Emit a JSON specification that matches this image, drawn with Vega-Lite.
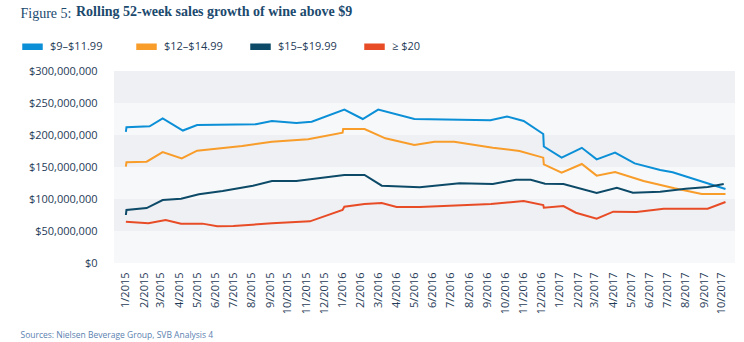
{
  "$schema": "https://vega.github.io/schema/vega-lite/v6.json",
  "width": 621,
  "height": 192,
  "autosize": "none",
  "padding": {"left": 114, "top": 71, "right": 9, "bottom": 79},
  "background": "white",
  "config": {
    "view": {"stroke": null, "fill": "#f7f8fa"},
    "font": "Open Sans"
  },
  "title": {
    "text": "Rolling 52-week sales growth of wine above $9",
    "anchor": "start",
    "frame": "group",
    "dx": -38,
    "offset": -13,
    "font": "Liberation Serif",
    "fontSize": 14,
    "fontWeight": "bold",
    "color": "#1b4a6e"
  },
  "datasets": {
    "bands": [
      {"lo": 250000000, "hi": 300000000},
      {"lo": 150000000, "hi": 200000000},
      {"lo": 50000000, "hi": 100000000}
    ],
    "series": [
      {"d": "2015-01-01", "s": "$9–$11.99", "v": 205000000},
      {"d": "2015-01-02", "s": "$9–$11.99", "v": 212000000},
      {"d": "2015-02-10", "s": "$9–$11.99", "v": 213500000},
      {"d": "2015-03-04", "s": "$9–$11.99", "v": 226000000},
      {"d": "2015-04-07", "s": "$9–$11.99", "v": 207000000},
      {"d": "2015-05-01", "s": "$9–$11.99", "v": 215600000},
      {"d": "2015-08-08", "s": "$9–$11.99", "v": 216700000},
      {"d": "2015-09-04", "s": "$9–$11.99", "v": 222000000},
      {"d": "2015-10-15", "s": "$9–$11.99", "v": 218800000},
      {"d": "2015-11-10", "s": "$9–$11.99", "v": 220800000},
      {"d": "2016-01-04", "s": "$9–$11.99", "v": 239600000},
      {"d": "2016-02-04", "s": "$9–$11.99", "v": 225000000},
      {"d": "2016-03-01", "s": "$9–$11.99", "v": 239600000},
      {"d": "2016-05-01", "s": "$9–$11.99", "v": 225000000},
      {"d": "2016-09-06", "s": "$9–$11.99", "v": 223000000},
      {"d": "2016-10-04", "s": "$9–$11.99", "v": 229000000},
      {"d": "2016-11-01", "s": "$9–$11.99", "v": 222000000},
      {"d": "2016-12-04", "s": "$9–$11.99", "v": 201600000},
      {"d": "2016-12-05", "s": "$9–$11.99", "v": 182000000},
      {"d": "2017-01-04", "s": "$9–$11.99", "v": 164600000},
      {"d": "2017-02-07", "s": "$9–$11.99", "v": 180000000},
      {"d": "2017-03-04", "s": "$9–$11.99", "v": 162000000},
      {"d": "2017-04-04", "s": "$9–$11.99", "v": 172400000},
      {"d": "2017-05-07", "s": "$9–$11.99", "v": 155700000},
      {"d": "2017-06-19", "s": "$9–$11.99", "v": 145300000},
      {"d": "2017-07-10", "s": "$9–$11.99", "v": 141700000},
      {"d": "2017-10-07", "s": "$9–$11.99", "v": 115600000},

      {"d": "2015-01-01", "s": "$12–$14.99", "v": 150500000},
      {"d": "2015-01-02", "s": "$12–$14.99", "v": 157300000},
      {"d": "2015-02-05", "s": "$12–$14.99", "v": 158300000},
      {"d": "2015-03-04", "s": "$12–$14.99", "v": 173400000},
      {"d": "2015-04-05", "s": "$12–$14.99", "v": 163500000},
      {"d": "2015-05-01", "s": "$12–$14.99", "v": 175500000},
      {"d": "2015-07-16", "s": "$12–$14.99", "v": 182800000},
      {"d": "2015-09-04", "s": "$12–$14.99", "v": 189600000},
      {"d": "2015-11-04", "s": "$12–$14.99", "v": 193200000},
      {"d": "2016-01-01", "s": "$12–$14.99", "v": 203600000},
      {"d": "2016-01-02", "s": "$12–$14.99", "v": 209400000},
      {"d": "2016-02-07", "s": "$12–$14.99", "v": 209400000},
      {"d": "2016-03-13", "s": "$12–$14.99", "v": 194800000},
      {"d": "2016-05-01", "s": "$12–$14.99", "v": 184400000},
      {"d": "2016-06-04", "s": "$12–$14.99", "v": 189600000},
      {"d": "2016-07-07", "s": "$12–$14.99", "v": 189600000},
      {"d": "2016-09-10", "s": "$12–$14.99", "v": 180200000},
      {"d": "2016-10-25", "s": "$12–$14.99", "v": 175000000},
      {"d": "2016-12-04", "s": "$12–$14.99", "v": 164600000},
      {"d": "2016-12-05", "s": "$12–$14.99", "v": 154200000},
      {"d": "2017-01-04", "s": "$12–$14.99", "v": 141100000},
      {"d": "2017-02-07", "s": "$12–$14.99", "v": 154700000},
      {"d": "2017-03-04", "s": "$12–$14.99", "v": 136500000},
      {"d": "2017-04-04", "s": "$12–$14.99", "v": 142200000},
      {"d": "2017-05-22", "s": "$12–$14.99", "v": 128100000},
      {"d": "2017-07-13", "s": "$12–$14.99", "v": 116700000},
      {"d": "2017-08-28", "s": "$12–$14.99", "v": 107800000},
      {"d": "2017-10-07", "s": "$12–$14.99", "v": 107800000},

      {"d": "2015-01-01", "s": "$15–$19.99", "v": 75000000},
      {"d": "2015-01-02", "s": "$15–$19.99", "v": 82800000},
      {"d": "2015-02-05", "s": "$15–$19.99", "v": 85900000},
      {"d": "2015-03-04", "s": "$15–$19.99", "v": 98400000},
      {"d": "2015-04-04", "s": "$15–$19.99", "v": 100500000},
      {"d": "2015-05-04", "s": "$15–$19.99", "v": 107300000},
      {"d": "2015-06-13", "s": "$15–$19.99", "v": 112500000},
      {"d": "2015-08-03", "s": "$15–$19.99", "v": 120800000},
      {"d": "2015-09-04", "s": "$15–$19.99", "v": 128100000},
      {"d": "2015-10-15", "s": "$15–$19.99", "v": 128100000},
      {"d": "2016-01-04", "s": "$15–$19.99", "v": 137500000},
      {"d": "2016-02-07", "s": "$15–$19.99", "v": 137500000},
      {"d": "2016-03-07", "s": "$15–$19.99", "v": 120800000},
      {"d": "2016-05-10", "s": "$15–$19.99", "v": 118200000},
      {"d": "2016-07-16", "s": "$15–$19.99", "v": 124500000},
      {"d": "2016-09-10", "s": "$15–$19.99", "v": 123400000},
      {"d": "2016-10-19", "s": "$15–$19.99", "v": 130200000},
      {"d": "2016-11-13", "s": "$15–$19.99", "v": 130200000},
      {"d": "2016-12-07", "s": "$15–$19.99", "v": 124000000},
      {"d": "2017-01-07", "s": "$15–$19.99", "v": 123400000},
      {"d": "2017-03-04", "s": "$15–$19.99", "v": 109400000},
      {"d": "2017-04-07", "s": "$15–$19.99", "v": 117700000},
      {"d": "2017-05-04", "s": "$15–$19.99", "v": 109900000},
      {"d": "2017-06-19", "s": "$15–$19.99", "v": 111500000},
      {"d": "2017-08-01", "s": "$15–$19.99", "v": 116100000},
      {"d": "2017-09-07", "s": "$15–$19.99", "v": 118800000},
      {"d": "2017-10-04", "s": "$15–$19.99", "v": 123400000},

      {"d": "2015-01-01", "s": "≥ $20", "v": 64600000},
      {"d": "2015-02-08", "s": "≥ $20", "v": 62000000},
      {"d": "2015-03-09", "s": "≥ $20", "v": 67200000},
      {"d": "2015-04-04", "s": "≥ $20", "v": 61500000},
      {"d": "2015-05-10", "s": "≥ $20", "v": 61500000},
      {"d": "2015-06-04", "s": "≥ $20", "v": 57300000},
      {"d": "2015-07-01", "s": "≥ $20", "v": 57800000},
      {"d": "2015-09-04", "s": "≥ $20", "v": 62000000},
      {"d": "2015-11-07", "s": "≥ $20", "v": 65100000},
      {"d": "2016-01-01", "s": "≥ $20", "v": 82800000},
      {"d": "2016-01-04", "s": "≥ $20", "v": 88000000},
      {"d": "2016-02-07", "s": "≥ $20", "v": 92200000},
      {"d": "2016-03-07", "s": "≥ $20", "v": 93800000},
      {"d": "2016-04-01", "s": "≥ $20", "v": 87500000},
      {"d": "2016-05-10", "s": "≥ $20", "v": 87500000},
      {"d": "2016-06-19", "s": "≥ $20", "v": 89000000},
      {"d": "2016-09-07", "s": "≥ $20", "v": 92200000},
      {"d": "2016-11-01", "s": "≥ $20", "v": 96900000},
      {"d": "2016-12-04", "s": "≥ $20", "v": 90600000},
      {"d": "2016-12-05", "s": "≥ $20", "v": 86500000},
      {"d": "2017-01-07", "s": "≥ $20", "v": 89000000},
      {"d": "2017-01-28", "s": "≥ $20", "v": 78600000},
      {"d": "2017-03-04", "s": "≥ $20", "v": 69300000},
      {"d": "2017-04-01", "s": "≥ $20", "v": 80200000},
      {"d": "2017-05-10", "s": "≥ $20", "v": 79700000},
      {"d": "2017-06-25", "s": "≥ $20", "v": 84900000},
      {"d": "2017-09-07", "s": "≥ $20", "v": 84900000},
      {"d": "2017-10-07", "s": "≥ $20", "v": 95300000}
    ]
  },
  "layer": [
    {
      "data": {"name": "bands"},
      "mark": {"type": "rect", "color": "#eff0f4"},
      "encoding": {
        "y": {
          "field": "lo",
          "type": "quantitative",
          "scale": {"domain": [0, 300000000], "nice": false},
          "axis": {
            "values": [0, 50000000, 100000000, 150000000, 200000000, 250000000, 300000000],
            "format": "$,.0f",
            "labelFontSize": 11,
            "labelColor": "#1f3b57",
            "labelPadding": 17,
            "ticks": false,
            "domain": false,
            "grid": false,
            "title": "Figure 5:",
            "titleAngle": 0,
            "titleAlign": "left",
            "titleBaseline": "alphabetic",
            "titleAnchor": "start",
            "titleX": -94,
            "titleY": -54,
            "titleFont": "Liberation Serif",
            "titleFontSize": 14,
            "titleFontWeight": "normal",
            "titleColor": "#1b4a6e"
          }
        },
        "y2": {"field": "hi"}
      }
    },
    {
      "data": {"name": "series"},
      "mark": {"type": "line", "strokeWidth": 2, "clip": true},
      "encoding": {
        "x": {
          "field": "d",
          "type": "temporal",
          "scale": {
            "type": "utc",
            "domain": [
              {"year": 2014, "month": 12, "date": 12, "utc": true},
              {"year": 2017, "month": 10, "date": 23, "utc": true}
            ]
          },
          "axis": {
            "format": "%-m/%Y",
            "tickCount": {"interval": "month", "step": 1},
            "labelAngle": -90,
            "labelFontSize": 11,
            "labelColor": "#1f3b57",
            "labelPadding": 9,
            "ticks": false,
            "domain": false,
            "grid": false,
            "labelOverlap": false,
            "labelFlush": false,
            "title": "Sources: Nielsen Beverage Group, SVB Analysis 4",
            "titleAnchor": "start",
            "titleAlign": "left",
            "titleX": -94,
            "titleY": 74,
            "titleBaseline": "alphabetic",
            "titleFont": "Open Sans",
            "titleFontSize": 8.5,
            "titleFontWeight": "normal",
            "titleColor": "#5b82b0"
          }
        },
        "y": {
          "field": "v",
          "type": "quantitative",
          "scale": {"domain": [0, 300000000], "nice": false},
          "axis": {
            "values": [0, 50000000, 100000000, 150000000, 200000000, 250000000, 300000000],
            "format": "$,.0f",
            "labelFontSize": 11,
            "labelColor": "#1f3b57",
            "labelPadding": 17,
            "ticks": false,
            "domain": false,
            "grid": false,
            "title": "Figure 5:",
            "titleAngle": 0,
            "titleAlign": "left",
            "titleBaseline": "alphabetic",
            "titleAnchor": "start",
            "titleX": -94,
            "titleY": -54,
            "titleFont": "Liberation Serif",
            "titleFontSize": 14,
            "titleFontWeight": "normal",
            "titleColor": "#1b4a6e"
          }
        },
        "color": {
          "field": "s",
          "type": "nominal",
          "scale": {
            "domain": ["$9–$11.99", "$12–$14.99", "$15–$19.99", "≥ $20"],
            "range": ["#0b8fd6", "#f89c2a", "#0c4a68", "#e84c26"]
          },
          "legend": {
            "title": null,
            "orient": "none",
            "direction": "horizontal",
            "legendX": -95,
            "legendY": -38,
            "symbolType": "stroke",
            "symbolSize": 420,
            "symbolStrokeWidth": 6.5,
            "labelFontSize": 11,
            "labelColor": "#1f3b57",
            "labelOffset": 4,
            "gridAlign": "all",
            "columnPadding": 14
          }
        }
      }
    }
  ]
}
